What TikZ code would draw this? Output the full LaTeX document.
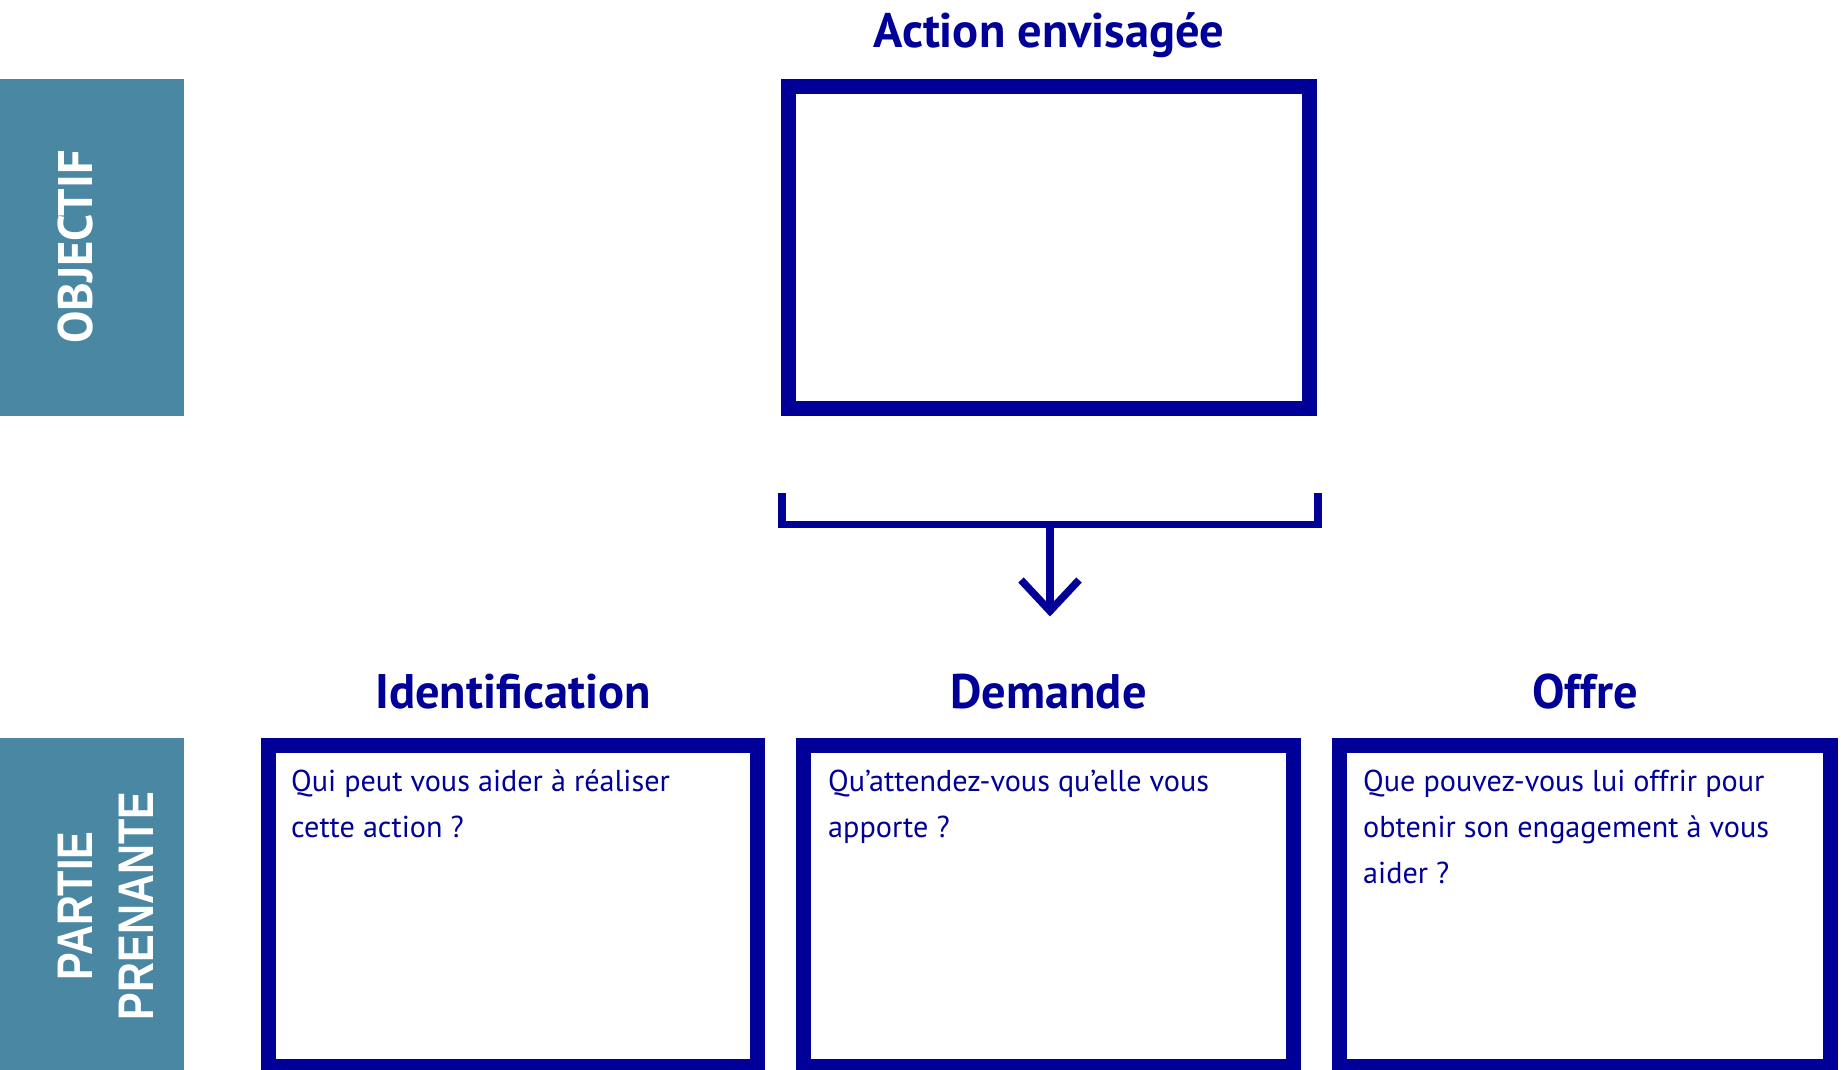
\documentclass[tikz,border=0pt]{standalone}
\usepackage{fontspec}
\setmainfont{PT Sans}
\newfontfamily\labelfont[FakeStretch=0.83]{Liberation Sans Bold}
\usetikzlibrary{positioning}
\definecolor{navy}{RGB}{0,0,153}
\definecolor{teal}{RGB}{74,135,163}
\newcommand{\promptlines}[1]{\vtop{\baselineskip=46pt\lineskiplimit=-100pt\halign{##\hfil\cr#1\crcr}}}
\tikzset{
  framebox/.style={draw=navy, line width=15pt, fill=white, inner sep=0pt},
  heading/.style={text=navy, font=\fontsize{48.5}{54}\selectfont\bfseries, inner sep=0pt, anchor=base},
  prompt/.style={text=navy, font=\fontsize{30.2}{46}\selectfont, inner sep=0pt, anchor=base west},
  sidelabel/.style={text=white, rotate=90, inner sep=0pt, anchor=base},
  linkline/.style={draw=navy, line width=7.5pt},
}
\begin{document}
\begin{tikzpicture}[x=1pt, y=-1pt]
\useasboundingbox (0,0) rectangle (1841,1070);

% side bands
\fill[teal] (0,79) rectangle (184,416);
\fill[teal] (0,738) rectangle (184,1070);
\node[sidelabel, font=\fontsize{48.5}{56}\selectfont\bfseries] (objlabel) at (92,247) {OBJECTIF};
\node[sidelabel, font=\labelfont\fontsize{50}{56}\selectfont] (pplabel1) at (92,906) {PARTIE};
\node[sidelabel, font=\labelfont\fontsize{50}{56}\selectfont] (pplabel2) at (153,906) {PRENANTE};

% planned action
\node[heading] (actiontitle) at (1049,48) {Action envisagée};
\node[framebox, minimum width=521pt, minimum height=322pt] (action) at (1049,247.5) {};

% three stakeholder boxes
\begin{scope}
\clip (0,0) rectangle (1841,1070);
\node[framebox, minimum width=489pt, minimum height=321pt] (ident) at (513,906) {};
\node[framebox, minimum width=490pt, minimum height=321pt] (demande) at (1048.5,906) {};
\node[framebox, minimum width=491pt, minimum height=321pt] (offre) at (1585,906) {};
\end{scope}

\node[heading] (identtitle) at (ident.north |- 0,708) {Identification};
\node[heading] (demandetitle) at (demande.north |- 0,708) {Demande};
\node[heading] (offretitle) at (offre.north |- 0,708) {Offre};

\node[prompt] (identq) at (291,791) {\promptlines{Qui peut vous aider à réaliser\cr cette action ?}};
\node[prompt] (demandeq) at (828,791) {\promptlines{Qu’attendez-vous qu’elle vous\cr apporte ?}};
\node[prompt] (offreq) at (1363,791) {\promptlines{Que pouvez-vous lui offrir pour\cr obtenir son engagement à vous\cr aider ?}};

% bracket gathering the action and pointing to the stakeholder row
\coordinate (bl) at (782,493);
\coordinate (br) at (1318,493);
\coordinate (bmid) at (1050,524.5);
\coordinate (tip) at (1050,611);
\draw[linkline, line join=miter] (bl) -- (bl |- bmid) -- (br |- bmid) -- (br);
\draw[linkline] (bmid) -- (tip);
\draw[linkline, line join=miter] ([xshift=-29pt, yshift=31pt]tip) -- (tip) -- ([xshift=29pt, yshift=31pt]tip);
\end{tikzpicture}
\end{document}
